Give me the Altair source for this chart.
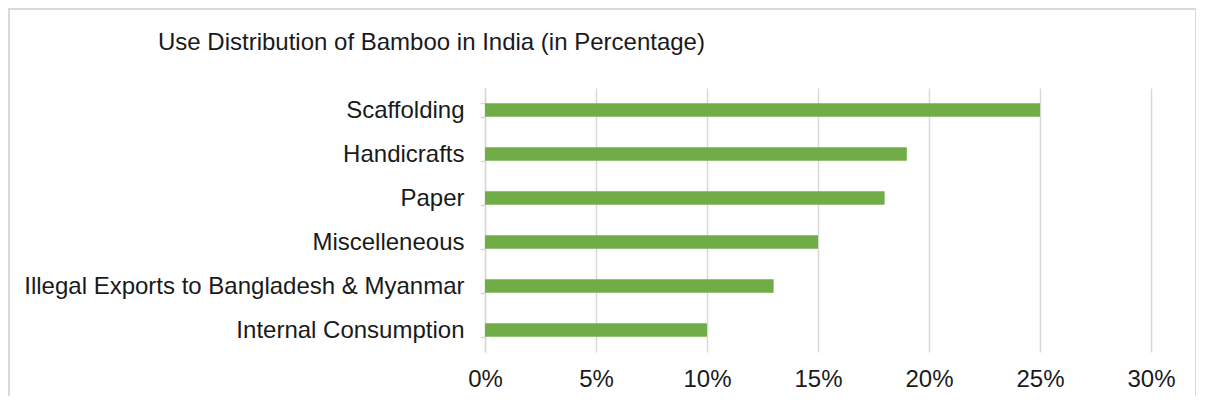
import altair as alt
import pandas as pd

categories = ["Scaffolding", "Handicrafts", "Paper", "Miscelleneous",
              "Illegal Exports to Bangladesh & Myanmar", "Internal Consumption"]
values = [25, 19, 18, 15, 13, 10]
title_text = "Use Distribution of Bamboo in India (in Percentage)"

df = pd.DataFrame({"use": categories, "pct": [v / 100 for v in values]})
tdf = pd.DataFrame({"t": [title_text]})

FONT = "Liberation Sans"
TXT = "#1a1a1a"

bars = alt.Chart(df).mark_bar(color="#70AD47").encode(
    x=alt.X("pct:Q",
            scale=alt.Scale(domain=[0, 0.30], nice=False),
            axis=alt.Axis(format=".0%", values=[0, 0.05, 0.10, 0.15, 0.20, 0.25, 0.30],
                          title=None, domain=False, ticks=False, labelFlush=False,
                          grid=True, gridColor="#d9d9d9", gridWidth=1.5,
                          labelFontSize=24, labelFont=FONT, labelColor=TXT,
                          labelPadding=15)),
    y=alt.Y("use:N", sort=categories,
            scale=alt.Scale(paddingInner=0.69, paddingOuter=0.345),
            axis=alt.Axis(title=None, domain=True, domainColor="#d9d9d9", domainWidth=1.5,
                          ticks=True, tickColor="#d9d9d9", tickWidth=1.5, tickSize=5,
                          tickBand="extent", grid=False, labelLimit=600,
                          labelFontSize=24, labelFont=FONT, labelColor=TXT,
                          labelPadding=16)),
)

border = alt.Chart(df).mark_rect(filled=False, stroke="#d9d9d9", strokeWidth=1.5).encode(
    x=alt.value(-476), x2=alt.value(711), y=alt.value(-79), y2=alt.value(340)
)

title = alt.Chart(tdf).mark_text(align="left", baseline="middle", fontSize=24,
                                 font=FONT, color=TXT).encode(
    text="t:N", x=alt.value(-327), y=alt.value(-45)
)

chart = alt.layer(border, title, bars).properties(
    width=666, height=264,
    autosize=alt.AutoSizeParams(type="none"),
    padding={"left": 477, "top": 80, "right": 45, "bottom": 44},
).configure_view(stroke=None)

chart.save("out.html", embed_options={"renderer": "svg", "actions": False})
